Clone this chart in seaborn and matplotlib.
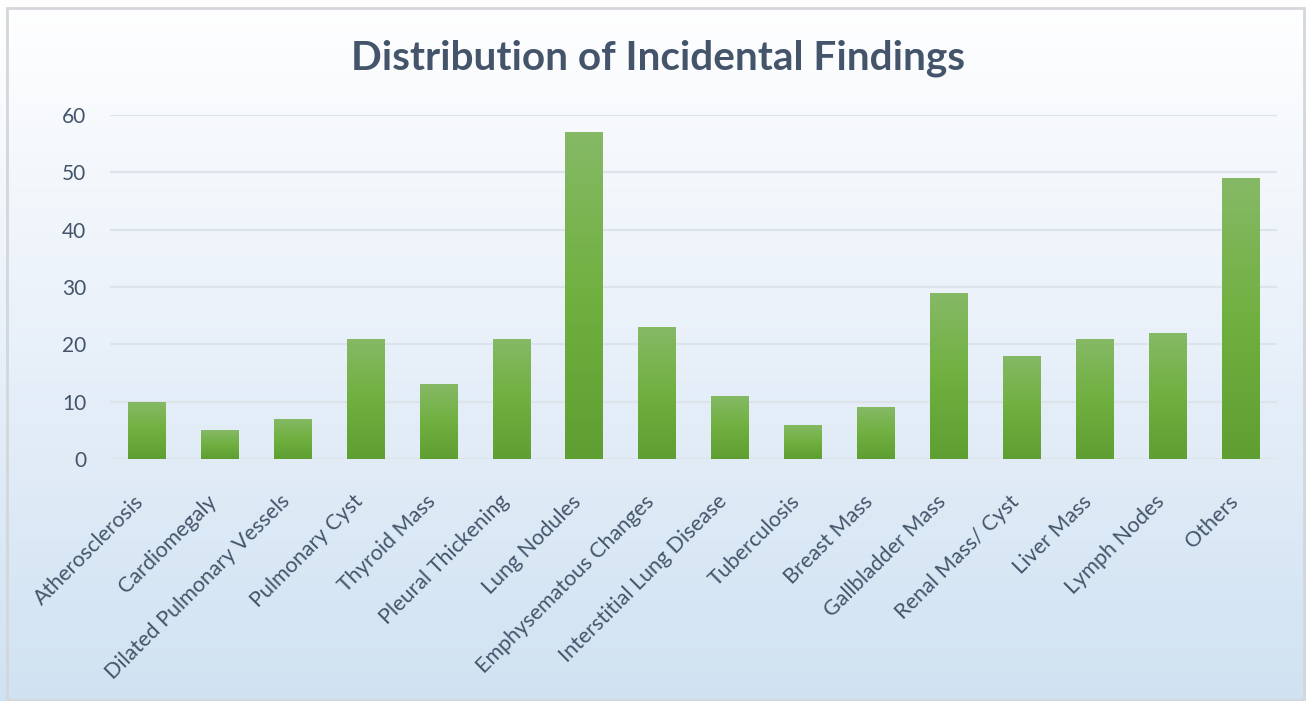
import numpy as np
import pandas as pd
import matplotlib
matplotlib.use("Agg")
import matplotlib.pyplot as plt
import matplotlib.transforms as mtransforms
import seaborn as sns
from matplotlib.colors import LinearSegmentedColormap
from matplotlib.patches import Rectangle

categories = ["Atherosclerosis", "Cardiomegaly", "Dilated Pulmonary Vessels",
              "Pulmonary Cyst", "Thyroid Mass", "Pleural Thickening", "Lung Nodules",
              "Emphysematous Changes", "Interstitial Lung Disease", "Tuberculosis",
              "Breast Mass", "Gallbladder Mass", "Renal Mass/ Cyst", "Liver Mass",
              "Lymph Nodes", "Others"]
counts = [10, 5, 7, 21, 13, 21, 57, 23, 11, 6, 9, 29, 18, 21, 22, 49]
y_ticks = [0, 10, 20, 30, 40, 50, 60]
title = "Distribution of Incidental Findings"

df = pd.DataFrame({"Finding": categories, "Count": counts})

sns.set_theme(style="white")
plt.rcParams['font.family'] = ['Lato', 'DejaVu Sans']

text_color = "#44546a"
W, H = 1306, 701
fig = plt.figure(figsize=(W / 100, H / 100), dpi=100)

# background gradient
bg = fig.add_axes([0, 0, 1, 1], zorder=-10)
bg_cmap = LinearSegmentedColormap.from_list("bg", ["#ffffff", "#e8f0f9", "#d0e2f2"])
grad = np.linspace(0, 1, 256).reshape(-1, 1)
bg.imshow(grad, aspect="auto", cmap=bg_cmap, extent=[0, 1, 0, 1], origin="upper")
bg.add_patch(Rectangle((7 / W, 1 / H), (W - 9) / W, (H - 9) / H,
                       fill=False, edgecolor="#d3d7dc", linewidth=2,
                       transform=bg.transAxes))
bg.set_xlim(0, 1)
bg.set_ylim(0, 1)
bg.axis("off")

ax = fig.add_axes([110 / W, 1 - 459 / H, (1277 - 110) / W, (459 - 115) / H])
ax.patch.set_alpha(0)
sns.barplot(data=df, x="Finding", y="Count", color="#6aab3c", width=0.51,
            ax=ax, saturation=1, zorder=3)

bar_cmap = LinearSegmentedColormap.from_list("bar", ["#86b966", "#70b040", "#5f9e32"])
for p in ax.patches:
    x0, y0 = p.get_x(), p.get_y()
    w, h = p.get_width(), p.get_height()
    img = ax.imshow(grad, aspect="auto", cmap=bar_cmap,
                    extent=[x0, x0 + w, y0, y0 + h], origin="upper", zorder=4)
    img.set_clip_path(p)
    p.set_edgecolor("none")

ax.set_xlim(-0.5, len(categories) - 0.5)
ax.set_ylim(0, 60)
ax.set_yticks(y_ticks)
ax.yaxis.grid(True, color="#dce3ea", linewidth=1.6, zorder=0)
ax.set_axisbelow(True)
for s in ax.spines.values():
    s.set_visible(False)
ax.tick_params(axis="both", length=0, colors=text_color)
ax.tick_params(axis="y", pad=17, labelsize=15)
ax.tick_params(axis="x", pad=19)
ax.set_xticks(range(len(categories)))
ax.set_xticklabels(categories, rotation=45, ha="right", rotation_mode="anchor",
                   color=text_color, fontsize=15.5)
offset = mtransforms.ScaledTranslation(-0.13, -0.06, fig.dpi_scale_trans)
for lbl in ax.get_xticklabels():
    lbl.set_transform(lbl.get_transform() + offset)
ax.set_xlabel("")
ax.set_ylabel("")

fig.text(0.504, 1 - 58 / H, title, ha="center", va="center", fontsize=29.2,
         fontweight="bold", color=text_color)

fig.savefig("out.png", dpi=100)
